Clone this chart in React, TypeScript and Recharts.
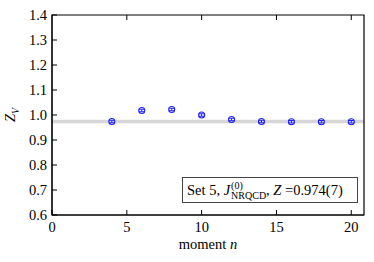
import { ComposedChart, Scatter, ErrorBar, XAxis, YAxis, ReferenceArea } from "recharts"

const moments = [4, 6, 8, 10, 12, 14, 16, 18, 20]
const zv = [0.974, 1.018, 1.022, 1.0, 0.982, 0.974, 0.973, 0.973, 0.973]
const zvErr = [0.005, 0.005, 0.005, 0.005, 0.005, 0.005, 0.005, 0.005, 0.005]
const xTicks = [0, 5, 10, 15, 20]
const yTicks = [0.6, 0.7, 0.8, 0.9, 1.0, 1.1, 1.2, 1.3, 1.4]
const fitValue = 0.974
const fitErr = 0.007

const data = moments.map((n, i) => ({ n, z: zv[i], err: zvErr[i] }))

const FONT = "'Liberation Serif', 'Times New Roman', serif"
const BLUE = "#2020ff"
const FS = 14.5

const BottomTick = (props: any) => {
  const { x, y, payload } = props
  return (
    <g>
      <line x1={x} y1={y} x2={x} y2={y - 5} stroke="#000" />
      <text x={x} y={y + 16.5} textAnchor="middle" style={{ fontFamily: FONT }} fontSize={FS} fill="#000">
        {payload.value}
      </text>
    </g>
  )
}

const TopTick = (props: any) => {
  const { x, y } = props
  return <line x1={x} y1={y} x2={x} y2={y + 5} stroke="#000" />
}

const LeftTick = (props: any) => {
  const { x, y, payload } = props
  return (
    <g>
      <line x1={x} y1={y} x2={x + 5} y2={y} stroke="#000" />
      <text x={x - 5} y={y + 5} textAnchor="end" style={{ fontFamily: FONT }} fontSize={FS} fill="#000">
        {Number(payload.value).toFixed(1)}
      </text>
    </g>
  )
}

const RightTick = (props: any) => {
  const { x, y } = props
  return <line x1={x} y1={y} x2={x - 5} y2={y} stroke="#000" />
}

const Marker = (props: any) => {
  const { cx, cy } = props
  return <circle cx={cx} cy={cy} r={3} fill="none" stroke={BLUE} strokeWidth={1.1} />
}

export default function App() {
  return (
    <div style={{ position: "fixed", left: 0, top: 0, width: 374, height: 262, background: "#fff", fontFamily: FONT }}>
      <ComposedChart width={374} height={262} data={data} margin={{ top: 10, right: 5, bottom: 0, left: 0 }}>
        <XAxis
          xAxisId="b"
          dataKey="n"
          type="number"
          domain={[0, 20.85]}
          ticks={xTicks}
          tick={<BottomTick />}
          tickLine={false}
          tickSize={0}
          tickMargin={0}
          height={47}
          axisLine={{ stroke: "#000" }}
          allowDataOverflow
        />
        <XAxis
          xAxisId="t"
          orientation="top"
          dataKey="n"
          type="number"
          domain={[0, 20.85]}
          ticks={xTicks.slice(1)}
          tick={<TopTick />}
          tickLine={false}
          tickSize={0}
          tickMargin={0}
          height={5}
          axisLine={false}
          allowDataOverflow
        />
        <YAxis
          yAxisId="l"
          type="number"
          domain={[0.6, 1.4]}
          ticks={yTicks}
          tick={<LeftTick />}
          tickLine={false}
          tickSize={0}
          tickMargin={0}
          width={52}
          axisLine={{ stroke: "#000" }}
          interval={0}
        />
        <YAxis
          yAxisId="r"
          orientation="right"
          type="number"
          domain={[0.6, 1.4]}
          ticks={yTicks.slice(1, -1)}
          tick={<RightTick />}
          tickLine={false}
          tickSize={0}
          tickMargin={0}
          width={5}
          axisLine={false}
          interval={0}
        />
        <ReferenceArea
          xAxisId="b"
          yAxisId="l"
          y1={fitValue - fitErr}
          y2={fitValue + fitErr}
          fill="#d6d6d6"
          fillOpacity={1}
          stroke="none"
        />
        <ReferenceArea
          xAxisId="b"
          yAxisId="l"
          x1={0}
          x2={20.85}
          y1={0.6}
          y2={1.4}
          fill="none"
          stroke="#000"
          strokeWidth={1.2}
        />
        <Scatter xAxisId="b" yAxisId="l" dataKey="z" shape={<Marker />} isAnimationActive={false}>
          <ErrorBar dataKey="err" direction="y" width={3} stroke={BLUE} strokeWidth={1} isAnimationActive={false} />
        </Scatter>
      </ComposedChart>
      <div
        style={{
          position: "absolute",
          left: 13,
          top: 115,
          transform: "translate(-50%, -50%) rotate(-90deg)",
          fontSize: FS,
          fontStyle: "italic",
          whiteSpace: "nowrap",
          lineHeight: "14px",
        }}
      >
        Z<sub style={{ fontSize: 10 }}>V</sub>
      </div>
      <div
        style={{
          position: "absolute",
          left: 0,
          width: 374,
          paddingLeft: 52,
          paddingRight: 10,
          boxSizing: "border-box",
          top: 236,
          textAlign: "center",
          fontSize: FS,
        }}
      >
        moment <i>n</i>
      </div>
      <div
        style={{
          position: "absolute",
          left: 182,
          top: 177,
          width: 176,
          height: 26,
          boxSizing: "border-box",
          border: "1px solid #444",
          background: "#fff",
          fontSize: FS,
          display: "flex",
          alignItems: "center",
          paddingLeft: 4,
          whiteSpace: "nowrap",
        }}
      >
        <span>Set 5,&nbsp;</span>
        <i>J</i>
        <span style={{ display: "inline-flex", flexDirection: "column", fontSize: 10, lineHeight: "10px", marginLeft: 1, marginTop: 1 }}>
          <span>(0)</span>
          <span>NRQCD</span>
        </span>
        <span>,&nbsp;</span>
        <i>Z</i>
        <span>&nbsp;=0.974(7)</span>
      </div>
    </div>
  )
}
